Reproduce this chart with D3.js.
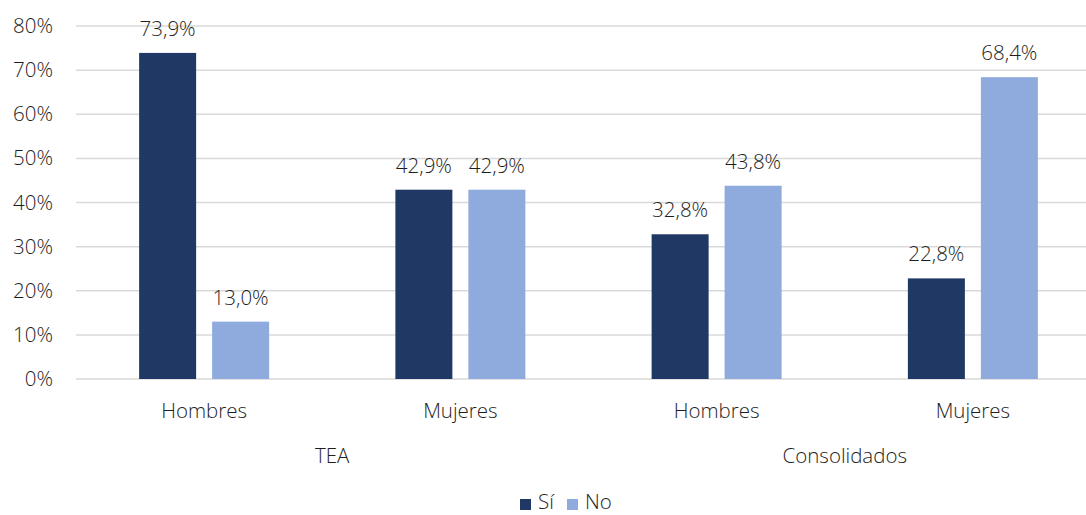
<!DOCTYPE html>
<html lang="es">
<head>
    <meta charset="UTF-8">
    <title>TEA / Consolidados</title>
    <script src="https://d3js.org/d3.v7.min.js"></script>
    <style>
        body { margin: 0; background: #fff; }
        text { font-family: "Open Sans", "Noto Sans", sans-serif; font-weight: 300; fill: #1e1e1e; }
    </style>
</head>
<body>
    <div id="chart"></div>
    <script>
        // data
        const categories = ["TEA|Hombres", "TEA|Mujeres", "Consolidados|Hombres", "Consolidados|Mujeres"];
        const catLabels = ["Hombres", "Mujeres", "Hombres", "Mujeres"];
        const groups = ["TEA", "Consolidados"];
        const series = ["Sí", "No"];
        const siValues = [73.9, 42.9, 32.8, 22.8];
        const noValues = [13.0, 42.9, 43.8, 68.4];
        const yTicks = [0, 10, 20, 30, 40, 50, 60, 70, 80];
        const colors = ["#203864", "#8faadc"];

        const width = 1086, height = 515;
        const plotLeft = 76, plotRight = 1101, plotTop = 26, plotBottom = 379;
        const fontSize = "20.5px";

        const svg = d3.select("#chart").append("svg")
            .attr("width", width).attr("height", height);

        const x0 = d3.scaleBand().domain(categories).range([plotLeft, plotRight]).padding(0);
        const bw = x0.bandwidth();
        const x1 = d3.scaleBand().domain(series)
            .range([bw / 2 - 65, bw / 2 + 65])
            .paddingInner(16 / 73).paddingOuter(0);
        const y = d3.scaleLinear().domain([0, 80]).range([plotBottom, plotTop]);

        // gridlines
        svg.append("g").selectAll("line").data(yTicks).enter().append("line")
            .attr("x1", plotLeft).attr("x2", plotRight)
            .attr("y1", d => y(d)).attr("y2", d => y(d))
            .attr("stroke", "#d9d9d9").attr("stroke-width", 1.5);

        // y axis labels
        const yAxis = svg.append("g").attr("transform", "translate(" + 53 + ",0)")
            .call(d3.axisLeft(y).tickValues(yTicks).tickFormat(d => d + "%").tickSize(0).tickPadding(0));
        yAxis.select(".domain").remove();
        yAxis.selectAll("text").style("font-size", fontSize).style("fill", "#1e1e1e")
            .style("font-family", "'Open Sans', sans-serif").style("font-weight", 300);

        const rows = categories.map((c, i) => ({ cat: c, vals: [siValues[i], noValues[i]] }));

        const g = svg.selectAll(".cat").data(rows).enter().append("g")
            .attr("transform", d => "translate(" + x0(d.cat) + ",0)");

        g.selectAll("rect").data(d => d.vals.map((v, j) => ({ s: series[j], v: v, j: j })))
            .enter().append("rect")
            .attr("x", d => x1(d.s))
            .attr("width", x1.bandwidth())
            .attr("y", d => y(d.v))
            .attr("height", d => y(0) - y(d.v))
            .attr("fill", d => colors[d.j]);

        g.selectAll(".lbl").data(d => d.vals.map((v, j) => ({ s: series[j], v: v })))
            .enter().append("text")
            .attr("class", "lbl")
            .attr("x", d => x1(d.s) + x1.bandwidth() / 2)
            .attr("y", d => y(d.v) - 17)
            .attr("text-anchor", "middle")
            .style("font-size", fontSize)
            .text(d => d.v.toFixed(1).replace(".", ",") + "%");

        // category labels
        svg.selectAll(".catlbl").data(categories).enter().append("text")
            .attr("x", d => x0(d) + bw / 2)
            .attr("y", 418)
            .attr("text-anchor", "middle")
            .style("font-size", fontSize)
            .text((d, i) => catLabels[i]);

        // group labels
        svg.selectAll(".grp").data(groups).enter().append("text")
            .attr("x", (d, i) => x0(categories[i * 2]) + bw)
            .attr("y", 463)
            .attr("text-anchor", "middle")
            .style("font-size", fontSize)
            .text(d => d);

        // legend
        const legend = svg.append("g").attr("transform", "translate(520,509)");
        const lx = [0, 47];
        series.forEach((s, i) => {
            legend.append("rect").attr("x", lx[i]).attr("y", -10)
                .attr("width", 11).attr("height", 11).attr("fill", colors[i]);
            legend.append("text").attr("x", lx[i] + 18).attr("y", 0)
                .style("font-size", fontSize).text(s);
        });
    </script>
</body>
</html>
